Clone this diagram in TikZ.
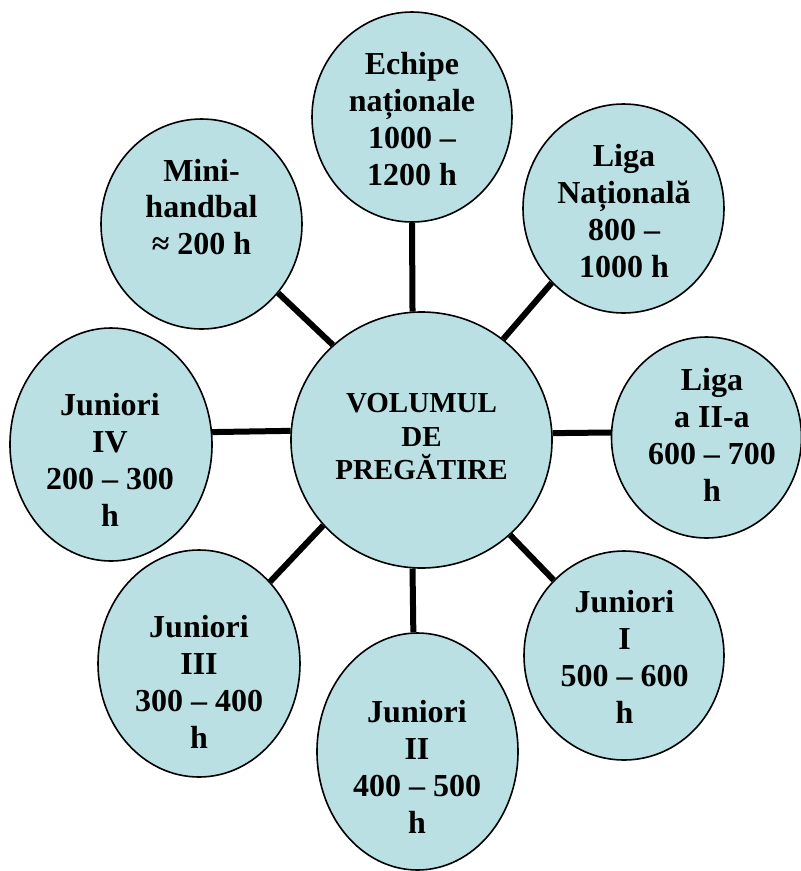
\documentclass[tikz,border=0pt]{standalone}
\usepackage{fontspec}
\setmainfont{Liberation Serif}
\usetikzlibrary{shapes.geometric,backgrounds}
\definecolor{bubble}{RGB}{186,224,227}
\tikzset{
  bub/.style={ellipse, draw=black, line width=1.6pt, fill=bubble, inner sep=0pt},
  txt/.style={align=center, inner sep=0pt, font=\fontsize{32}{36.8}\selectfont\bfseries},
  ctxt/.style={align=center, inner sep=0pt, font=\fontsize{29}{33.5}\selectfont\bfseries},
  link/.style={line width=6pt, black}
}
\begin{document}
\begin{tikzpicture}[x=1pt,y=-1pt]
\useasboundingbox (0,0) rectangle (801,871);
% ellipses
\node[bub, minimum width=261pt, minimum height=256pt] (C) at (421.5,440) {};
\node[bub, minimum width=200pt, minimum height=210pt] (E) at (412,117) {};
\node[bub, minimum width=201pt, minimum height=209pt] (LN) at (623.5,208.5) {};
\node[bub, minimum width=190pt, minimum height=201pt] (L2) at (706.5,437.5) {};
\node[bub, minimum width=200pt, minimum height=209pt] (J1) at (624,655.5) {};
\node[bub, minimum width=201pt, minimum height=237pt] (J2) at (417.5,751.5) {};
\node[bub, minimum width=202pt, minimum height=227pt] (J3) at (199,663.5) {};
\node[bub, minimum width=202pt, minimum height=233pt] (J4) at (111,444.5) {};
\node[bub, minimum width=201pt, minimum height=210pt] (M) at (201.5,224) {};
% texts
\node[ctxt] (Ct) at (421.5,437) {VOLUMUL\\DE\\PREGĂTIRE};
\node[txt] (Et) at (412,119) {Echipe\\naționale\\1000 –\\1200 h};
\node[txt] (LNt) at (624,211) {Liga\\Națională\\800 –\\1000 h};
\node[txt] (L2t) at (712,435) {Liga\\a II-a\\600 – 700\\h};
\node[txt] (J1t) at (624.5,657) {Juniori\\I\\500 – 600\\h};
\node[txt] (J2t) at (417,767) {Juniori\\II\\400 – 500\\h};
\node[txt] (J3t) at (199,682) {Juniori\\III\\300 – 400\\h};
\node[txt] (J4t) at (110,460) {Juniori\\IV\\200 – 300\\h};
\node[txt] (Mt) at (201.5,207) {Mini-\\handbal\\≈ 200 h};
% connectors
\begin{pgfonlayer}{background}
\draw[link] (C.94.25) -- (E.270);
\draw[link] (C.51.7) -- (LN.226.2);
\draw[link] (C.3.29) -- (L2.177.0);
\draw[link] (C.-47) -- (J1.133.2);
\draw[link] (C.-94.25) -- (J2.92.66);
\draw[link] (C.-139.2) -- (J3.49);
\draw[link] (C.176.5) -- (J4.7.1);
\draw[link] (C.133.9) -- (M.-42);
\end{pgfonlayer}
\end{tikzpicture}
\end{document}
